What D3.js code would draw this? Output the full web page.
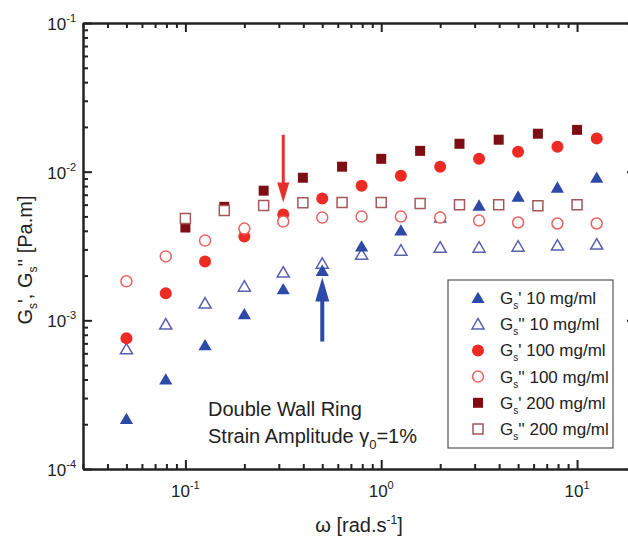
<!DOCTYPE html>
<html>
<head>
<meta charset="utf-8">
<script src="https://cdn.jsdelivr.net/npm/d3@7"></script>
<style>
  body { margin: 0; background: #fff; }
  text { font-family: "Liberation Sans", Arial, sans-serif; fill: #222; }
</style>
</head>
<body>
<div id="chart"></div>
<script>
// frequencies (rad/s)
var freqA = [0.05, 0.0794, 0.126, 0.2, 0.316, 0.5, 0.794, 1.26, 2, 3.16, 5, 7.94, 12.6];
var freqB = [0.1, 0.158, 0.251, 0.398, 0.631, 1, 1.58, 2.51, 3.98, 6.31, 10];

// moduli (Pa.m)
var gp10   = [2.17e-4, 4.0e-4, 6.8e-4, 1.10e-3, 1.62e-3, 2.15e-3, 3.14e-3, 4.02e-3, 4.91e-3, 5.91e-3, 6.79e-3, 7.81e-3, 9.1e-3];
var gpp10  = [6.4e-4, 9.4e-4, 1.30e-3, 1.69e-3, 2.10e-3, 2.41e-3, 2.77e-3, 2.95e-3, 3.09e-3, 3.09e-3, 3.14e-3, 3.19e-3, 3.24e-3];
var gp100  = [7.57e-4, 1.52e-3, 2.49e-3, 3.66e-3, 5.15e-3, 6.59e-3, 8.05e-3, 9.4e-3, 1.08e-2, 1.22e-2, 1.36e-2, 1.47e-2, 1.67e-2];
var gpp100 = [1.83e-3, 2.69e-3, 3.44e-3, 4.14e-3, 4.62e-3, 4.91e-3, 4.99e-3, 4.99e-3, 4.91e-3, 4.69e-3, 4.55e-3, 4.48e-3, 4.48e-3];
var gp200  = [4.21e-3, 5.8e-3, 7.45e-3, 9.1e-3, 1.08e-2, 1.22e-2, 1.38e-2, 1.54e-2, 1.64e-2, 1.80e-2, 1.91e-2];
var gpp200 = [4.84e-3, 5.47e-3, 5.91e-3, 6.19e-3, 6.2e-3, 6.2e-3, 6.1e-3, 6.0e-3, 6.0e-3, 5.9e-3, 6.0e-3];

var xDecades = [-1, 0, 1];
var yDecades = [-4, -3, -2, -1];
var legendLabels = ["10 mg/ml", "10 mg/ml", "100 mg/ml", "100 mg/ml", "200 mg/ml", "200 mg/ml"];
var legendPrimes = ["'", "''", "'", "''", "'", "''"];

var svg = d3.select("#chart").append("svg")
  .attr("width", 628)
  .attr("height", 538);

var x = d3.scaleLog().domain([0.03, 20]).range([83, 636]);
var y = d3.scaleLog().domain([1e-4, 1e-1]).range([469, 23]);

// minor tick values
var xMinor = [], yMinor = [];
[-2, -1, 0, 1].forEach(function (e) {
  for (var k = 2; k <= 9; k++) { var v = k * Math.pow(10, e); if (v >= 0.03 && v <= 20) xMinor.push(v); }
});
[-4, -3, -2].forEach(function (e) {
  for (var k = 2; k <= 9; k++) yMinor.push(k * Math.pow(10, e));
});
var xMajor = xDecades.map(function (e) { return Math.pow(10, e); });
var yMajor = yDecades.map(function (e) { return Math.pow(10, e); });

function styleAxis(g) {
  g.select(".domain").attr("stroke", "#222").attr("stroke-width", 2);
  g.selectAll(".tick line").attr("stroke", "#222").attr("stroke-width", 2);
  g.selectAll(".tick text").remove();
}

// bottom / top
[[469, d3.axisBottom], [23, d3.axisTop]].forEach(function (a) {
  svg.append("g").attr("transform", "translate(0," + a[0] + ")")
    .call(a[1](x).tickValues(xMajor).tickSize(-9).tickSizeOuter(0)).call(styleAxis);
  svg.append("g").attr("transform", "translate(0," + a[0] + ")")
    .call(a[1](x).tickValues(xMinor).tickSize(-5).tickSizeOuter(0)).call(styleAxis);
});
// left / right
[[83, d3.axisLeft], [636, d3.axisRight]].forEach(function (a) {
  svg.append("g").attr("transform", "translate(" + a[0] + ",0)")
    .call(a[1](y).tickValues(yMajor).tickSize(-9).tickSizeOuter(0)).call(styleAxis);
  svg.append("g").attr("transform", "translate(" + a[0] + ",0)")
    .call(a[1](y).tickValues(yMinor).tickSize(-5).tickSizeOuter(0)).call(styleAxis);
});

// tick labels with superscripts
xDecades.forEach(function (e) {
  var t = svg.append("text").attr("x", x(Math.pow(10, e))).attr("y", 497)
    .attr("text-anchor", "middle").style("font-size", "17px");
  t.append("tspan").text("10");
  t.append("tspan").attr("dy", -8).style("font-size", "11px").text(e);
});
yDecades.forEach(function (e) {
  var t = svg.append("text").attr("x", 76).attr("y", y(Math.pow(10, e)) + 7)
    .attr("text-anchor", "end").style("font-size", "17px");
  t.append("tspan").text("10");
  t.append("tspan").attr("dy", -8).style("font-size", "11px").text(e);
});

// axis titles
var xt = svg.append("text").attr("x", 359).attr("y", 532).attr("text-anchor", "middle").style("font-size", "20px");
xt.append("tspan").text("ω [rad.s");
xt.append("tspan").attr("dy", -8).style("font-size", "12px").text("-1");
xt.append("tspan").attr("dy", 8).text("]");

var yt = svg.append("text").attr("transform", "translate(32,260) rotate(-90)")
  .attr("text-anchor", "middle").style("font-size", "20px");
yt.append("tspan").text("G");
yt.append("tspan").attr("dy", 5).style("font-size", "12px").text("s");
yt.append("tspan").attr("dy", -5).text("', G");
yt.append("tspan").attr("dy", 5).style("font-size", "12px").text("s");
yt.append("tspan").attr("dy", -5).text("'' [Pa.m]");

// marker shapes
function shapePath(shape, r) {
  if (shape === "tri") return "M0," + (-r * 1.05) + "L" + (r * 1.1) + "," + (r * 0.85) + "L" + (-r * 1.1) + "," + (r * 0.85) + "Z";
  if (shape === "sq") return "M" + (-r) + "," + (-r) + "H" + r + "V" + r + "H" + (-r) + "Z";
  return d3.arc()({ innerRadius: 0, outerRadius: r, startAngle: 0, endAngle: 2 * Math.PI });
}

var series = [
  { f: freqA, v: gpp10, shape: "tri", r: 5.5, fill: "#fff", stroke: "#5a5fb0" },
  { f: freqA, v: gp10, shape: "tri", r: 6, fill: "#2c4aa6", stroke: "none" },
  { f: freqA, v: gp100, shape: "circ", r: 6, fill: "#ee2a24", stroke: "none" },
  { f: freqA, v: gpp100, shape: "circ", r: 5.5, fill: "#fff", stroke: "#e86262" },
  { f: freqB, v: gp200, shape: "sq", r: 5, fill: "#7d0f14", stroke: "none" },
  { f: freqB, v: gpp200, shape: "sq", r: 5, fill: "#fff", stroke: "#a4585a" }
];

series.forEach(function (s) {
  svg.append("g").selectAll("path")
    .data(s.f.map(function (f, i) { return [f, s.v[i]]; }))
    .enter().append("path")
    .attr("transform", function (d) { return "translate(" + x(d[0]) + "," + y(d[1]) + ")"; })
    .attr("d", shapePath(s.shape, s.r))
    .attr("fill", s.fill)
    .attr("stroke", s.stroke)
    .attr("stroke-width", 1.5);
});

// arrows
var arrows = [
  { f: 0.316, from: 1.77e-2, to: 6.2e-3, color: "#e8302a", w: 3, hl: 20, hw: 6 },
  { f: 0.5, from: 7.2e-4, to: 1.94e-3, color: "#2c4aa6", w: 4, hl: 24, hw: 7 }
];
arrows.forEach(function (a) {
  var ax = x(a.f), y0 = y(a.from), y1 = y(a.to);
  var dir = y1 > y0 ? 1 : -1;
  svg.append("line").attr("x1", ax).attr("x2", ax).attr("y1", y0).attr("y2", y1 - dir * a.hl * 0.8)
    .attr("stroke", a.color).attr("stroke-width", a.w);
  svg.append("path")
    .attr("d", "M" + ax + "," + y1 + "L" + (ax - a.hw) + "," + (y1 - dir * a.hl) + "L" + (ax + a.hw) + "," + (y1 - dir * a.hl) + "Z")
    .attr("fill", a.color);
});

// annotation
svg.append("text").attr("x", 208).attr("y", 416).style("font-size", "20px").text("Double Wall Ring");
var ann = svg.append("text").attr("x", 208).attr("y", 443).style("font-size", "20px");
ann.append("tspan").text("Strain Amplitude γ");
ann.append("tspan").attr("dy", 6).style("font-size", "13px").text("0");
ann.append("tspan").attr("dy", -6).text("=1%");

// legend
var legend = svg.append("g");
legend.append("rect").attr("x", 448).attr("y", 280).attr("width", 165).attr("height", 168)
  .attr("fill", "#fff").attr("stroke", "#555").attr("stroke-width", 1.2);
var legendOrder = [1, 0, 2, 3, 4, 5];
legendOrder.forEach(function (si, i) {
  var s = series[si], ly = 298 + i * 26.2;
  legend.append("path").attr("transform", "translate(478," + ly + ")")
    .attr("d", shapePath(s.shape, s.r)).attr("fill", s.fill).attr("stroke", s.stroke).attr("stroke-width", 1.5);
  var t = legend.append("text").attr("x", 500).attr("y", ly + 6).style("font-size", "17px");
  t.append("tspan").text("G");
  t.append("tspan").attr("dy", 5).style("font-size", "10px").text("s");
  t.append("tspan").attr("dy", -5).text(legendPrimes[i] + " " + legendLabels[i]);
});
</script>
</body>
</html>
